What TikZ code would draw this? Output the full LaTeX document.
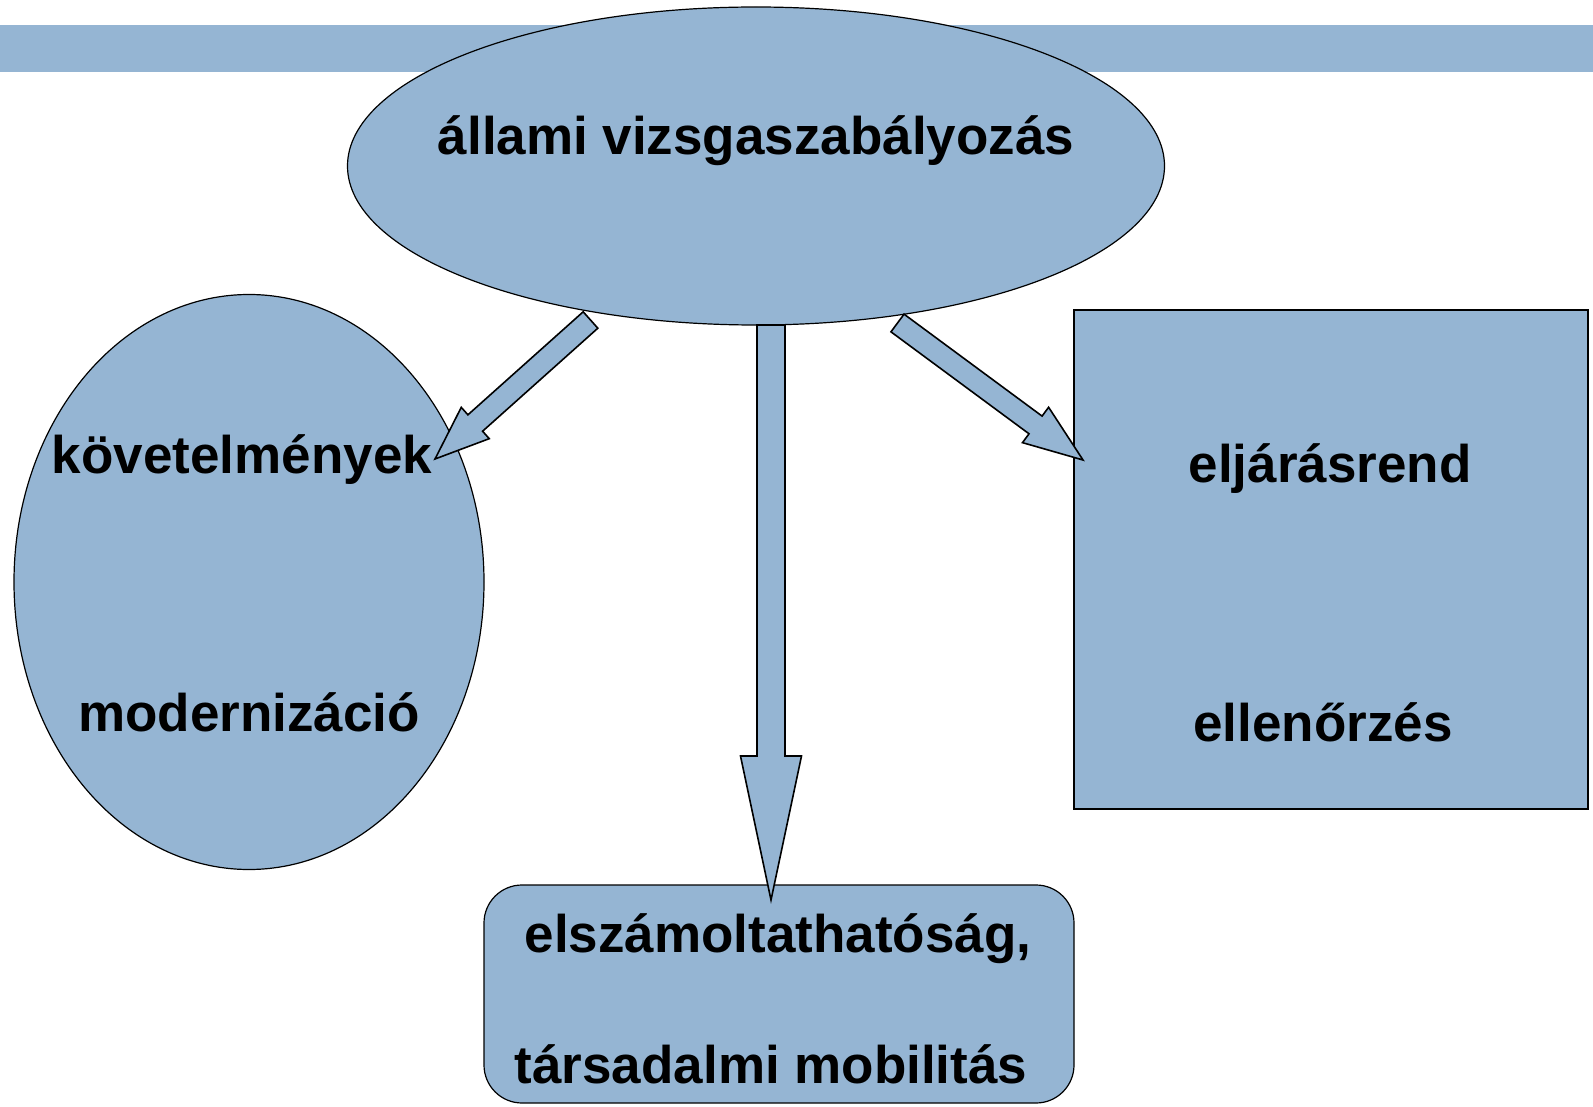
\documentclass[tikz,border=0pt]{standalone}
\usepackage{fontspec}
\setmainfont{Liberation Sans}
\usetikzlibrary{shapes.geometric}
\usetikzlibrary{calc}
\definecolor{boxblue}{RGB}{149,181,211}

% block arrow: from, to, half shaft width, half head width, head length
\newcommand{\blockarrow}[5]{%
\coordinate (neck) at ($(#2)!#5!(#1)$);
\draw[arrowbox] ($(#1)!#3!90:(#2)$) -- ($(neck)!#3!90:(#2)$) -- ($(neck)!#4!90:(#2)$) -- (#2)
 -- ($(neck)!#4!-90:(#2)$) -- ($(neck)!#3!-90:(#2)$) -- ($(#1)!#3!-90:(#2)$) -- cycle;
}

\begin{document}
\begin{tikzpicture}[
x=1pt, y=-1pt,
oval/.style={ellipse, draw, fill=boxblue, line width=1.2pt, inner sep=0pt},
block/.style={rectangle, draw, fill=boxblue, line width=1.2pt, inner sep=0pt},
arrowbox/.style={draw, fill=boxblue, line width=1.6pt, line join=miter},
word/.style={font=\fontsize{53}{63}\selectfont\bfseries, inner sep=0pt}
]
\useasboundingbox (0,0) rectangle (1593,1107);
\fill[boxblue] (0,25) rectangle (1593,72);

\node[oval, minimum width=817pt, minimum height=318pt] (n1) at (756,166) {};
\node[oval, minimum width=470pt, minimum height=575pt] (n2) at (249,582) {};
\node[block, minimum width=514pt, minimum height=499pt] (n3) at (1331,559.5) {};
\node[block, rounded corners=38pt, minimum width=590pt, minimum height=218pt] (n4) at (779,994) {};

\node[word] (n5) at (756,141) {állami vizsgaszabályozás};
\node[word] (n6) at (242,460) {követelmények};
\node[word] (n7) at (249,712) {modernizáció};
\node[word] (n8) at (1330,469) {eljárásrend};
\node[word] (n9) at (1323,722) {ellenőrzés};
\node[word] (n10) at (778,939) {elszámoltathatóság,};
\node[word] (n11) at (771,1064) {társadalmi mobilitás};

\coordinate (a1) at (590.5,320);
\coordinate (b1) at (435,459);
\coordinate (a2) at (771,325);
\coordinate (b2) at (771,900);
\coordinate (a3) at (897.5,323);
\coordinate (b3) at (1083,460);

\blockarrow{a1}{b1}{11pt}{21pt}{54pt}
\blockarrow{a2}{b2}{14pt}{30.5pt}{144pt}
\blockarrow{a3}{b3}{11pt}{22pt}{59pt}
\end{tikzpicture}
\end{document}
